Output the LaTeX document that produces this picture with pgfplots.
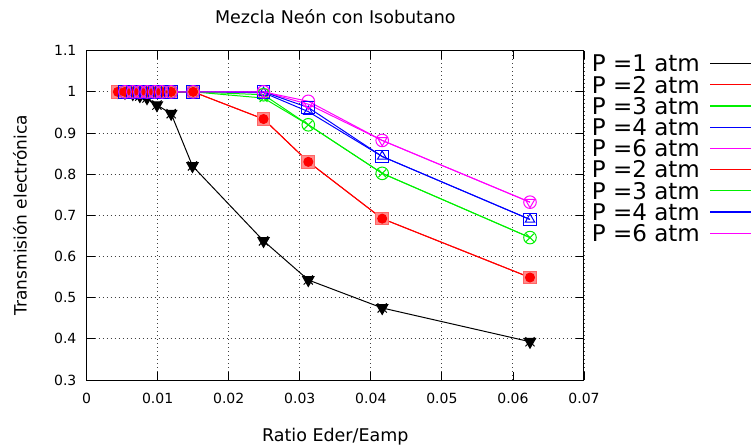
\documentclass[border=0pt]{standalone}
\usepackage{fontspec}
\setmainfont{DejaVu Sans}
\usepackage{pgfplots}
\pgfplotsset{compat=1.18}

\definecolor{gpred}{RGB}{255,0,0}
\definecolor{gpgreen}{RGB}{0,240,0}
\definecolor{gpblue}{RGB}{0,0,255}
\definecolor{gpmag}{RGB}{255,0,255}

\begin{document}
\begin{tikzpicture}
\begin{axis}[
  at={(86.6bp,65bp)}, anchor=south west,
  scale only axis, width=497.4bp, height=329.3bp,
  xmin=0, xmax=0.07, ymin=0.3, ymax=1.1,
  xtick={0,0.01,0.02,0.03,0.04,0.05,0.06,0.07},
  ytick={0.3,0.4,0.5,0.6,0.7,0.8,0.9,1.0,1.1},
  scaled x ticks=false, scaled y ticks=false,
  /pgf/number format/assume math mode=true,
  tick label style={font=\fontsize{14bp}{16bp}\selectfont, inner sep=0pt},
  xticklabel style={/pgf/number format/fixed, /pgf/number format/precision=2, yshift=-13bp},
  yticklabel style={/pgf/number format/fixed, /pgf/number format/precision=1, xshift=-10bp},
  tick align=inside, major tick length=8bp,
  tick style={black, line width=0.8bp},
  axis line style={black, line width=1bp},
  grid=major,
  major grid style={black!75, line width=0.9bp, dash pattern=on 1.2bp off 2.8bp},
  title={Mezcla Neón con Isobutano},
  title style={font=\fontsize{17.5bp}{20bp}\selectfont, at={(axis description cs:0.5,1.085)}, anchor=center},
  xlabel={Ratio Eder/Eamp},
  xlabel style={font=\fontsize{17.5bp}{20bp}\selectfont, at={(axis description cs:0.5,-0.173)}, anchor=center},
  ylabel={Transmisión electrónica},
  ylabel style={font=\fontsize{17bp}{20bp}\selectfont, at={(axis description cs:-0.134,0.5)}, anchor=center},
  legend plot pos=right,
  legend cell align=left,
  legend image code/.code={\draw[#1, line width=1.2bp] (0bp,0bp) -- (50bp,0bp);},
  legend style={
    at={(axis description cs:1.0155,0.987)}, anchor=north west,
    draw=none, fill=none, inner sep=0pt,
    font=\fontsize{23bp}{25bp}\selectfont,
    nodes={inner sep=0pt, text height=16.7bp, text depth=0bp},
    row sep=4.5bp, column sep=10bp,
  },
  every axis plot/.append style={line width=1bp},
]
% P = 1 atm
\addplot[black, mark=triangle*, mark size=6.5bp, mark options={rotate=180, solid}]
  coordinates {(0.0044,1.0)(0.0054,0.998)(0.0065,0.995)(0.0075,0.990)(0.0085,0.985)
   (0.0099,0.968)(0.0119,0.947)(0.0149,0.820)(0.0249,0.638)(0.0312,0.543)
   (0.0416,0.475)(0.0624,0.393)};
\addlegendentry{P =1 atm}
% crosses over the P = 1 atm markers
\addplot[black, only marks, mark=x, mark size=6.5bp, forget plot]
  coordinates {(0.0044,1.0)(0.0054,0.998)(0.0065,0.995)(0.0075,0.990)(0.0085,0.985)
   (0.0099,0.968)(0.0119,0.947)(0.0149,0.820)(0.0249,0.638)(0.0312,0.543)
   (0.0416,0.475)(0.0624,0.393)};
% P = 2 atm
\addplot[gpred, mark=*, mark size=4.5bp]
  coordinates {(0.0044,1.0)(0.0054,1.0)(0.0065,1.0)(0.0075,1.0)(0.0085,1.0)
   (0.0096,1.0)(0.0106,1.0)(0.0119,1.0)(0.0150,1.0)(0.0249,0.934)(0.0312,0.830)
   (0.0416,0.692)(0.0624,0.549)};
\addlegendentry{P =2 atm}
% P = 3 atm
\addplot[gpgreen, mark=x, mark size=5.5bp]
  coordinates {(0.0054,1.0)(0.0065,1.0)(0.0075,1.0)(0.0085,1.0)
   (0.0096,1.0)(0.0106,1.0)(0.0119,1.0)(0.0150,1.0)(0.0249,0.985)(0.0312,0.920)
   (0.0416,0.802)(0.0624,0.646)};
\addlegendentry{P =3 atm}
% P = 4 atm
\addplot[gpblue, mark=triangle, mark size=5.5bp]
  coordinates {(0.0054,1.0)(0.0065,1.0)(0.0075,1.0)(0.0085,1.0)
   (0.0096,1.0)(0.0106,1.0)(0.0119,1.0)(0.0150,1.0)(0.0249,0.998)(0.0312,0.952)
   (0.0416,0.843)(0.0624,0.690)};
\addlegendentry{P =4 atm}
% P = 6 atm
\addplot[gpmag, mark=triangle, mark size=5.5bp, mark options={rotate=180}]
  coordinates {(0.0054,1.0)(0.0065,1.0)(0.0075,1.0)(0.0085,1.0)
   (0.0096,1.0)(0.0106,1.0)(0.0119,1.0)(0.0150,1.0)(0.0249,1.0)(0.0312,0.970)
   (0.0416,0.882)(0.0624,0.732)};
\addlegendentry{P =6 atm}
% second run, P = 2 atm
\addplot[gpred, mark=square*, mark size=6.3bp, mark options={fill=gpred!45, draw=gpred!60}]
  coordinates {(0.0044,1.0)(0.0054,1.0)(0.0065,1.0)(0.0075,1.0)(0.0085,1.0)
   (0.0096,1.0)(0.0106,1.0)(0.0119,1.0)(0.0150,1.0)(0.0249,0.934)(0.0312,0.830)
   (0.0416,0.692)(0.0624,0.549)};
\addlegendentry{P =2 atm}
% filled dots of P = 2 atm redrawn on top of the squares
\addplot[gpred, only marks, mark=*, mark size=4.5bp, forget plot]
  coordinates {(0.0044,1.0)(0.0054,1.0)(0.0065,1.0)(0.0075,1.0)(0.0085,1.0)
   (0.0096,1.0)(0.0106,1.0)(0.0119,1.0)(0.0150,1.0)(0.0249,0.934)(0.0312,0.830)
   (0.0416,0.692)(0.0624,0.549)};
% second run, P = 3 atm
\addplot[gpgreen, mark=o, mark size=6.3bp]
  coordinates {(0.0054,1.0)(0.0065,1.0)(0.0075,1.0)(0.0085,1.0)
   (0.0096,1.0)(0.0106,1.0)(0.0119,1.0)(0.0150,1.0)(0.0249,0.993)(0.0312,0.920)
   (0.0416,0.802)(0.0624,0.646)};
\addlegendentry{P =3 atm}
% second run, P = 4 atm
\addplot[gpblue, mark=square, mark size=6.3bp]
  coordinates {(0.0054,1.0)(0.0065,1.0)(0.0075,1.0)(0.0085,1.0)
   (0.0096,1.0)(0.0106,1.0)(0.0119,1.0)(0.0150,1.0)(0.0249,1.0)(0.0312,0.962)
   (0.0416,0.843)(0.0624,0.690)};
\addlegendentry{P =4 atm}
% second run, P = 6 atm
\addplot[gpmag, mark=o, mark size=6.3bp]
  coordinates {(0.0054,1.0)(0.0065,1.0)(0.0075,1.0)(0.0085,1.0)
   (0.0096,1.0)(0.0106,1.0)(0.0119,1.0)(0.0150,1.0)(0.0249,1.0)(0.0312,0.977)
   (0.0416,0.882)(0.0624,0.732)};
\addlegendentry{P =6 atm}
\end{axis}
\pgfresetboundingbox
\path[use as bounding box] (0,0) rectangle (751bp,445bp);
\end{tikzpicture}
\end{document}
